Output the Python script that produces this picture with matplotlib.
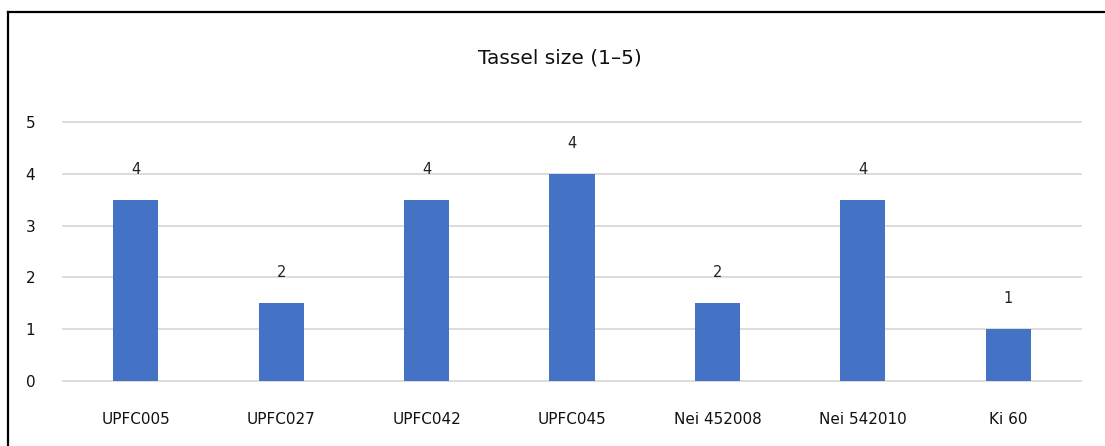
import matplotlib
matplotlib.use('Agg')
import matplotlib.pyplot as plt
from matplotlib.lines import Line2D
import numpy as np

categories = ['UPFC005', 'UPFC027', 'UPFC042', 'UPFC045', 'Nei 452008', 'Nei 542010', 'Ki 60']
values = [3.5, 1.5, 3.5, 4, 1.5, 3.5, 1]
value_labels = ['4', '2', '4', '4', '2', '4', '1']
yticks = [0, 1, 2, 3, 4, 5]

fig = plt.figure(figsize=(11.05, 4.46), dpi=100)
ax = fig.add_axes([63 / 1105, 1 - 381 / 446, 1018 / 1105, 259 / 446])

x = np.arange(len(categories))
ax.bar(x, values, width=0.31, color='#4472c4', zorder=3)
for xi, v, lab in zip(x, values, value_labels):
    ax.annotate(lab, (xi, v), xytext=(0, 16.5), textcoords='offset points',
                ha='center', va='bottom', fontsize=10.5, color='#222222')

ax.set_xlim(-0.5, len(categories) - 0.5)
ax.set_ylim(0, 5)
ax.set_yticks(yticks)
ax.set_xticks(x)
ax.set_xticklabels(categories, fontsize=11)
ax.tick_params(axis='both', length=0, labelsize=11, colors='#111111')
ax.tick_params(axis='y', pad=20)
ax.tick_params(axis='x', pad=22)
ax.grid(axis='y', color='#d9d9d9', linewidth=1.3, zorder=0)
for gl in ax.get_ygridlines():
    gl.set_clip_on(False)
for s in ax.spines.values():
    s.set_visible(False)

fig.text(560 / 1105, 1 - 58 / 446, 'Tassel size (1–5)', ha='center', va='center',
         fontsize=14.5, color='#111111')

# outer frame (top and left edges visible)
fig.add_artist(Line2D([8 / 1105, 1], [1 - 12 / 446, 1 - 12 / 446], color='black', linewidth=1.6))
fig.add_artist(Line2D([8 / 1105, 8 / 1105], [0, 1 - 12 / 446], color='black', linewidth=1.6))

fig.savefig('out.png', dpi=100)
plt.close(fig)
